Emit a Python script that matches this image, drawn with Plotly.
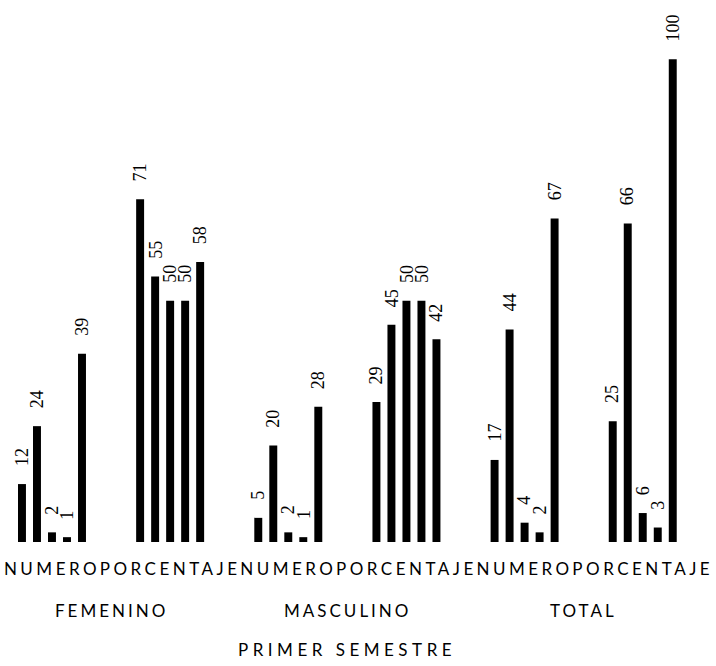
import plotly.graph_objects as go

# ---- data ----
groups = ["FEMENINO", "MASCULINO", "TOTAL"]
subcats = ["NUMERO", "PORCENTAJE"]
group_title = "PRIMER SEMESTRE"
# each series = one bar position inside every category (6 categories)
serie_1 = [12, 71, 5, 29, 17, 25]
serie_2 = [24, 55, 20, 45, 44, 66]
serie_3 = [2, 50, 2, 50, 4, 6]
serie_4 = [1, 50, 1, 50, 2, 3]
serie_5 = [39, 58, 28, 42, 67, 100]
series = [serie_1, serie_2, serie_3, serie_4, serie_5]

# ---- layout parameters ----
BARGAP = 0.365
BARGROUPGAP = 0.47
tick_labels = [s for g in groups for s in subcats]
positions = list(range(len(tick_labels)))

fig = go.Figure()
for s in series:
    fig.add_trace(go.Bar(x=positions, y=s, marker=dict(color="black", line=dict(width=0)),
                         showlegend=False, hoverinfo="skip"))

# value labels (rotated) placed above each bar
n = len(series)
slot = (1 - BARGAP) / n
annotations = []
for i, s in enumerate(series):
    off = (i - (n - 1) / 2) * slot
    for p, v in zip(positions, s):
        annotations.append(dict(x=p + off, y=v, xref="x", yref="y", text=str(v),
                                showarrow=False, textangle=-90, yanchor="bottom",
                                xanchor="center", yshift=16,
                                font=dict(family="Liberation Serif", size=18, color="black")))

# group labels
for gi, g in enumerate(groups):
    cx = gi * len(subcats) + (len(subcats) - 1) / 2
    annotations.append(dict(x=cx, y=0, xref="x", yref="paper", yanchor="middle",
                            yshift=-68, showarrow=False,
                            text='<span style="letter-spacing:3px">%s</span>' % g,
                            font=dict(family="Lato", size=17, color="black")))
annotations.append(dict(x=(positions[0] + positions[-1]) / 2, y=0, xref="x", yref="paper",
                        yanchor="middle", yshift=-107, showarrow=False,
                        text='<span style="letter-spacing:4.5px">%s</span>' % group_title,
                        font=dict(family="Lato", size=17, color="black")))

fig.update_layout(
    width=716, height=666,
    margin=dict(l=0, r=0, t=11, b=124),
    paper_bgcolor="white", plot_bgcolor="white",
    barmode="group", bargap=BARGAP, bargroupgap=BARGROUPGAP,
    annotations=annotations,
    xaxis=dict(range=[-0.44, 5.62], tickmode="array", tickvals=positions,
               ticktext=['<span style="letter-spacing:3.5px">%s</span>' % t for t in tick_labels],
               tickangle=0, showgrid=False, zeroline=False, showline=False, ticks="",
               ticklabelstandoff=15, automargin=False,
               tickfont=dict(family="Lato", size=17, color="black")),
    yaxis=dict(range=[0, 110], visible=False, showgrid=False, zeroline=False,
               automargin=False),
)

fig.write_html("out.html", config={"displayModeBar": False},
               post_script="document.body.style.margin='0';document.body.style.overflow='hidden';")
